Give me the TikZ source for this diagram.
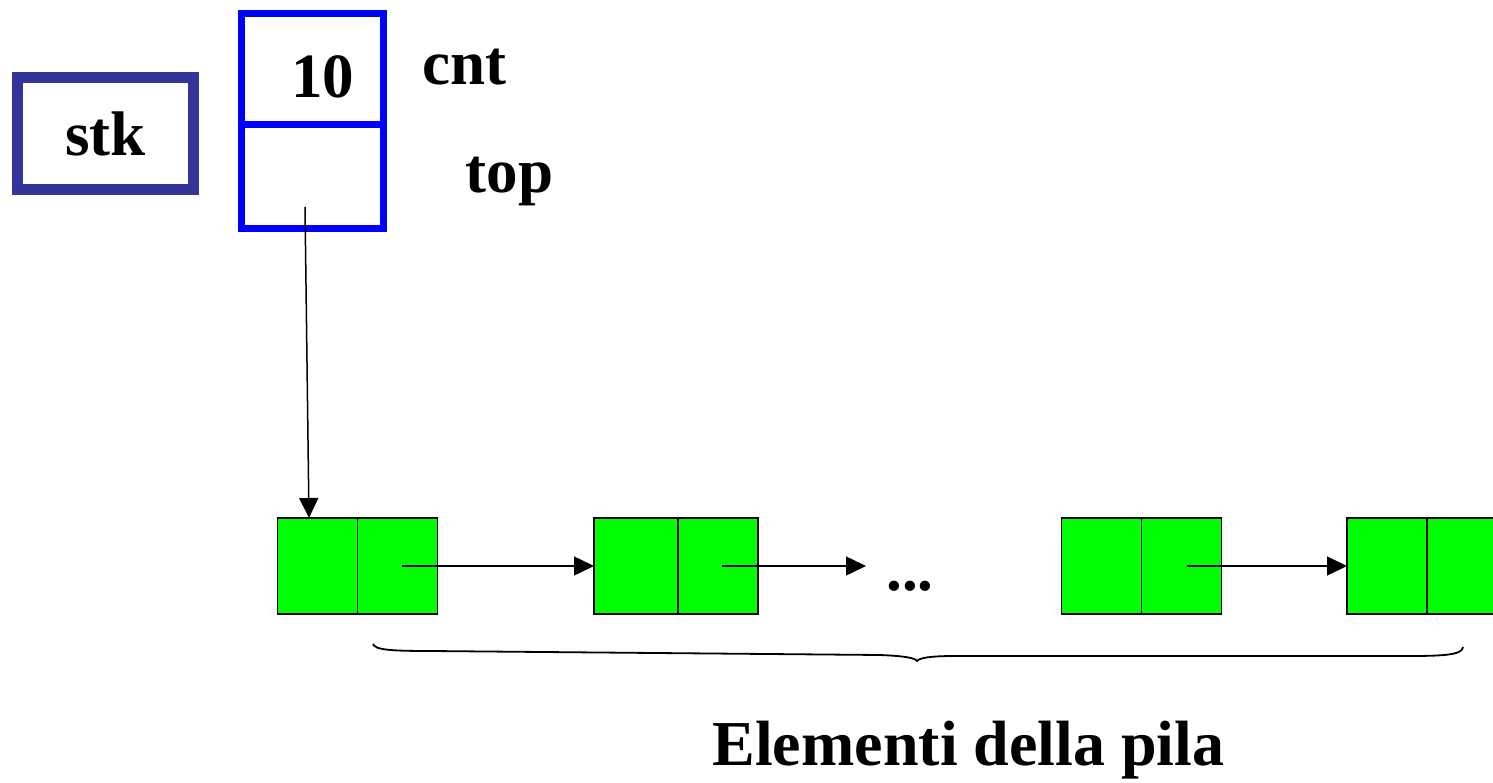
\documentclass[tikz,border=0pt]{standalone}
\usepackage{fontspec}
\setmainfont{Liberation Serif}
\usetikzlibrary{arrows.meta}
\definecolor{stkblue}{HTML}{333399}
\definecolor{boxblue}{HTML}{0000FF}
\definecolor{cellgreen}{HTML}{00FF00}
\begin{document}
\begin{tikzpicture}[x=1pt,y=-1pt,
  lbl/.style={font=\fontsize{63}{70}\selectfont\bfseries, inner sep=0pt, outer sep=0pt},
  cell/.style={draw=black, fill=cellgreen, line width=1.5pt, minimum width=80pt, minimum height=96pt, inner sep=0pt, outer sep=0pt},
  bcell/.style={draw=boxblue, line width=7pt, minimum width=142pt, inner sep=0pt, outer sep=0pt},
  arr/.style={line width=1.5pt, -{Triangle[length=20pt,width=19pt]}},
  bracepath/.style={line width=1.8pt}]
\useasboundingbox (0,0) rectangle (1493,783);
\clip (0,0) rectangle (1493,783);

% stk box
\node[draw=stkblue, line width=11.5pt, minimum width=176pt, minimum height=112pt,
      inner sep=0pt, font=\fontsize{63}{70}\selectfont\bfseries] (stk) at (105.5,133.5) {stk};

% struct with cnt and top
\node[bcell, minimum height=111.5pt] (cntcell) at (312.5,69.25) {};
\node[bcell, minimum height=103.5pt] (topcell) at (312.5,176.75) {};
\node[lbl, anchor=base] (ten) at (322.5,98) {10};
\node[lbl, anchor=base] (cnt) at (464.5,85) {cnt};
\node[lbl, anchor=base] (top) at (509.5,193) {top};

% list elements
\node[cell] (b1l) at (317.5,566) {};
\node[cell] (b1r) at (397.5,566) {};
\node[cell, minimum width=84pt] (b2l) at (636,566) {};
\node[cell] (b2r) at (718,566) {};
\node[cell] (b3l) at (1101.5,566) {};
\node[cell] (b3r) at (1181.5,566) {};
\node[cell] (b4l) at (1387,566) {};
\node[cell] (b4r) at (1467,566) {};

\node[lbl, anchor=base] (dots) at (910,590) {...};

% pointers
\coordinate (ptr) at (305,207);
\draw[arr] (ptr) -- ([xshift=-8.5pt]b1l.north);
\draw[arr] ([xshift=4.5pt]b1r.center) -- (b2l.west);
\draw[arr] ([xshift=4pt]b2r.center) -- (866,566);
\draw[arr] ([xshift=5.5pt]b3r.center) -- (b4l.west);

% brace
\draw[bracepath] (373,644) .. controls (375,650) and (392,651) .. (430,651)
  -- (880,655) .. controls (905,656) and (915,658) .. (917,661)
  .. controls (919,658) and (930,656) .. (955,656)
  -- (1410,656) .. controls (1450,656) and (1462,654) .. (1463,647);

\node[lbl, anchor=base, font=\fontsize{64}{72}\selectfont\bfseries] (elem) at (968.5,765) {Elementi della pila};
\end{tikzpicture}
\end{document}
